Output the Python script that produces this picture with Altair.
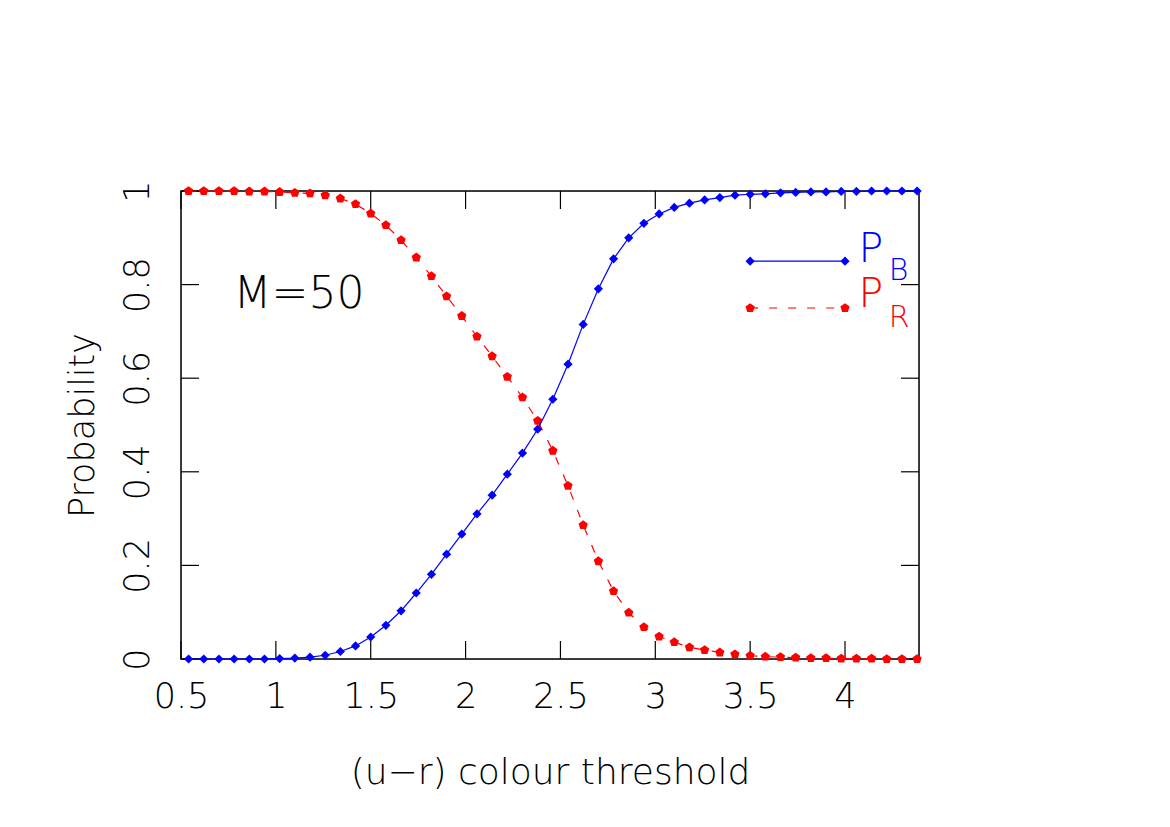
import altair as alt
import pandas as pd

# ---------------- data ----------------
thresholds = [0.54, 0.62, 0.70, 0.78, 0.86, 0.94, 1.02, 1.10, 1.18, 1.26,
              1.34, 1.42, 1.50, 1.58, 1.66, 1.74, 1.82, 1.90, 1.98, 2.06,
              2.14, 2.22, 2.30, 2.38, 2.46, 2.54, 2.62, 2.70, 2.78, 2.86,
              2.94, 3.02, 3.10, 3.18, 3.26, 3.34, 3.42, 3.50, 3.58, 3.66,
              3.74, 3.82, 3.90, 3.98, 4.06, 4.14, 4.22, 4.30, 4.38]

p_blue = [0.000, 0.000, 0.000, 0.000, 0.000, 0.000, 0.001, 0.002, 0.004, 0.008,
          0.016, 0.028, 0.047, 0.072, 0.103, 0.141, 0.181, 0.224, 0.267, 0.310,
          0.350, 0.395, 0.440, 0.491, 0.555, 0.630, 0.715, 0.791, 0.855, 0.900,
          0.931, 0.951, 0.965, 0.974, 0.981, 0.986, 0.991, 0.993, 0.994, 0.996,
          0.997, 0.998, 0.998, 0.999, 0.999, 1.000, 1.000, 1.000, 1.000]

p_red = [1.000, 1.000, 1.000, 1.000, 0.999, 0.999, 0.998, 0.996, 0.995, 0.991,
         0.984, 0.972, 0.952, 0.927, 0.895, 0.858, 0.818, 0.775, 0.733, 0.689,
         0.647, 0.603, 0.559, 0.509, 0.445, 0.370, 0.286, 0.209, 0.145, 0.099,
         0.068, 0.048, 0.036, 0.025, 0.019, 0.014, 0.010, 0.007, 0.005, 0.004,
         0.003, 0.002, 0.002, 0.001, 0.001, 0.001, 0.000, 0.000, 0.000]

x_tick_values = [0.5, 1, 1.5, 2, 2.5, 3, 3.5, 4]
y_tick_values = [0, 0.2, 0.4, 0.6, 0.8, 1]

legend_line_x = [3.5, 4.0]
legend_blue_y = [0.85, 0.85]
legend_red_y = [0.75, 0.75]

legend_main_text = ["P", "P"]
legend_main_x = [4.071, 4.071]
legend_main_y = [0.848, 0.752]
legend_sub_text = ["B", "R"]
legend_sub_x = [4.23, 4.23]
legend_sub_y = [0.810, 0.709]
legend_colors = ["#0000ff", "#ff0000"]

note_text = ["M=50"]
note_x = [0.777]
note_y = [0.75]

# ---------------- styling ----------------
W, H = 738, 468
FONT = "DejaVu Sans"
WEIGHT = 200
BLUE = "#0000ff"
RED = "#ff0000"
PENTAGON = "M0,-1L0.951,-0.309L0.588,0.809L-0.588,0.809L-0.951,-0.309Z"

xscale = alt.Scale(domain=[0.5, 4.39], nice=False, zero=False)
yscale = alt.Scale(domain=[0, 1], nice=False, zero=False)

xaxis = alt.Axis(
    values=x_tick_values, format="~g", title="(u−r) colour threshold",
    domain=False, ticks=False, tickSize=0, grid=False,
    labelFont=FONT, labelFontSize=35, labelFontWeight=WEIGHT, labelColor="black",
    labelPadding=48, labelBaseline="alphabetic", labelAlign="center",
    labelOverlap=False, labelFlush=False, labelBound=False,
    titleFont=FONT, titleFontSize=36, titleFontWeight=WEIGHT, titleColor="black",
    titleX=369, titleY=124, titleAlign="center", titleBaseline="alphabetic",
)
yaxis = alt.Axis(
    values=y_tick_values, format="~g", title="Probability",
    domain=False, ticks=False, tickSize=0, grid=False,
    labelFont=FONT, labelFontSize=35, labelFontWeight=WEIGHT, labelColor="black",
    labelPadding=33, labelAngle=270, labelAlign="center", labelBaseline="alphabetic",
    labelOverlap=False, labelFlush=False, labelBound=False,
    titleFont=FONT, titleFontSize=35, titleFontWeight=WEIGHT, titleColor="black",
    titleAngle=270, titleX=-88, titleY=234, titleAlign="center",
    titleBaseline="alphabetic",
)


def X(field):
    return alt.X(field, type="quantitative", scale=xscale, axis=xaxis)


def Y(field):
    return alt.Y(field, type="quantitative", scale=yscale, axis=yaxis)


curves = pd.DataFrame({"x": thresholds, "pb": p_blue, "pr": p_red})
legend_lines = pd.DataFrame({"x": legend_line_x, "yb": legend_blue_y, "yr": legend_red_y})
legend_main = pd.DataFrame({"x": legend_main_x, "y": legend_main_y,
                            "t": legend_main_text, "c": legend_colors})
legend_sub = pd.DataFrame({"x": legend_sub_x, "y": legend_sub_y,
                           "t": legend_sub_text, "c": legend_colors})
note = pd.DataFrame({"x": note_x, "y": note_y, "t": note_text})
xt = pd.DataFrame({"t": x_tick_values})
yt = pd.DataFrame({"t": y_tick_values})
frame_df = pd.DataFrame({"k": [0]})

DIAMOND_SIZE = 85
PENT_SIZE = 95

base = alt.Chart(curves)
red_line = base.mark_line(color=RED, strokeWidth=1.2, strokeDash=[8, 11]).encode(x=X("x"), y=Y("pr"))
red_pts = base.mark_point(shape=PENTAGON, filled=True, color=RED, size=PENT_SIZE, opacity=1).encode(x=X("x"), y=Y("pr"))
blue_line = base.mark_line(color=BLUE, strokeWidth=1.2).encode(x=X("x"), y=Y("pb"))
blue_pts = base.mark_point(shape="diamond", filled=True, color=BLUE, size=DIAMOND_SIZE, opacity=1).encode(x=X("x"), y=Y("pb"))

lb = alt.Chart(legend_lines)
leg_blue_line = lb.mark_line(color=BLUE, strokeWidth=1.2).encode(x=X("x"), y=Y("yb"))
leg_blue_pts = lb.mark_point(shape="diamond", filled=True, color=BLUE, size=DIAMOND_SIZE, opacity=1).encode(x=X("x"), y=Y("yb"))
leg_red_line = lb.mark_line(color=RED, strokeWidth=1.2, strokeDash=[8, 11]).encode(x=X("x"), y=Y("yr"))
leg_red_pts = lb.mark_point(shape=PENTAGON, filled=True, color=RED, size=PENT_SIZE, opacity=1).encode(x=X("x"), y=Y("yr"))

leg_main_txt = alt.Chart(legend_main).mark_text(
    font=FONT, fontSize=41, fontWeight=WEIGHT, align="left", baseline="alphabetic"
).encode(x=X("x"), y=Y("y"), text="t:N", color=alt.Color("c:N", scale=None))
leg_sub_txt = alt.Chart(legend_sub).mark_text(
    font=FONT, fontSize=30, fontWeight=WEIGHT, align="left", baseline="alphabetic"
).encode(x=X("x"), y=Y("y"), text="t:N", color=alt.Color("c:N", scale=None))

note_txt = alt.Chart(note).mark_text(
    font=FONT, fontSize=44, fontWeight=WEIGHT, align="left", baseline="alphabetic", color="black"
).encode(x=X("x"), y=Y("y"), text="t:N")

TICK = 18
tick_bottom = alt.Chart(xt).mark_rule(color="black", strokeWidth=1.2).encode(
    x=X("t"), y=alt.value(H), y2=alt.value(H - TICK))
tick_top = alt.Chart(xt).mark_rule(color="black", strokeWidth=1.2).encode(
    x=X("t"), y=alt.value(0), y2=alt.value(TICK))
tick_left = alt.Chart(yt).mark_rule(color="black", strokeWidth=1.2).encode(
    y=Y("t"), x=alt.value(0), x2=alt.value(TICK))
tick_right = alt.Chart(yt).mark_rule(color="black", strokeWidth=1.2).encode(
    y=Y("t"), x=alt.value(W - TICK), x2=alt.value(W))

frame = alt.Chart(frame_df).mark_rect(
    fill="transparent", stroke="black", strokeWidth=1.5
).encode(x=alt.value(0), x2=alt.value(W), y=alt.value(0), y2=alt.value(H))

chart = alt.layer(
    frame, tick_bottom, tick_top, tick_left, tick_right,
    red_line, red_pts, blue_line, blue_pts,
    leg_blue_line, leg_blue_pts, leg_red_line, leg_red_pts,
    leg_main_txt, leg_sub_txt, note_txt,
).properties(
    width=W, height=H,
    autosize=alt.AutoSizeParams(type="none"),
    padding={"left": 173, "top": 183, "right": 240, "bottom": 150},
).configure_view(
    stroke="black", strokeWidth=1.5, fill="white"
).configure(background="white")

chart.save("out.html", embed_options={"renderer": "svg", "actions": False})
